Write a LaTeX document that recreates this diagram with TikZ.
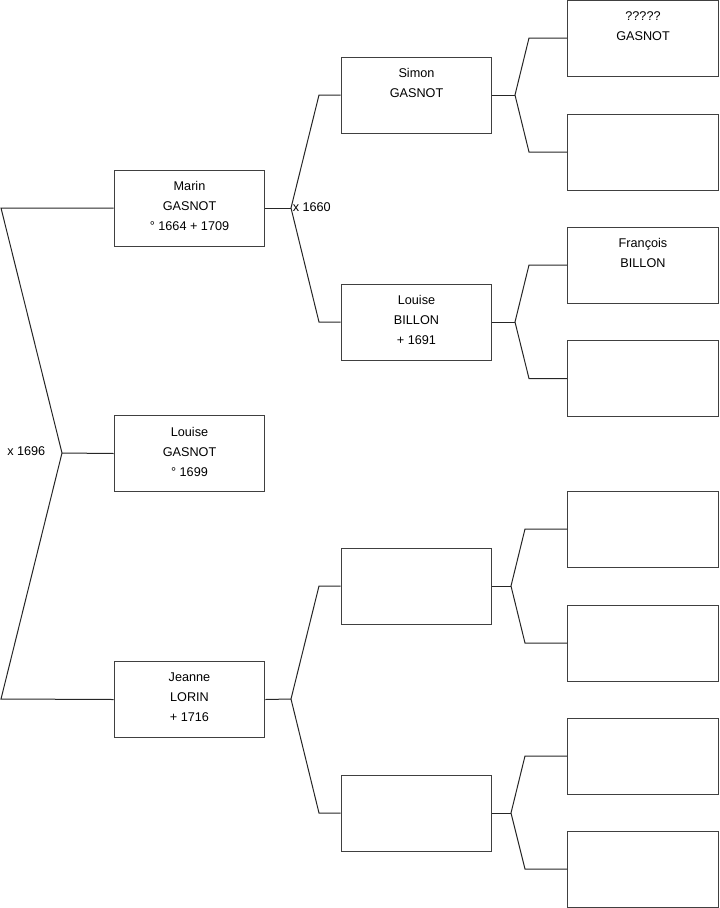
\documentclass[tikz,border=0pt]{standalone}
\usepackage{fontspec}
\setmainfont{Liberation Sans}
\usetikzlibrary{positioning}

\begin{document}
\begin{tikzpicture}[x=0.75pt, y=-0.75pt,
    every node/.style={font=\fontsize{9.5pt}{15pt}\selectfont},
    person/.style={draw=black!75, line width=0.75pt, minimum width=113pt, minimum height=57pt, text depth=3pt, align=center, inner sep=0pt},
    link/.style={draw=black!85, line width=0.75pt}]
    \useasboundingbox (0,0) rectangle (719,908);
    % generation 1
    \node[person] (marin) at (189.5,208) {Marin\\GASNOT\\° 1664 + 1709};
    \node[person] (louise) at (189.5,453.5) {Louise\\GASNOT\\° 1699};
    \node[person] (jeanne) at (189.5,699.5) {Jeanne\\LORIN\\+ 1716};
    % generation 2
    \node[person] (simon) at (416.5,95) {Simon\\GASNOT\\~};
    \node[person] (billon) at (416.5,322) {Louise\\BILLON\\+ 1691};
    \node[person] (p3) at (416.5,586) {};
    \node[person] (p4) at (416.5,813) {};
    % generation 3
    \node[person] (g1) at (643,38) {?????\\GASNOT\\~};
    \node[person] (g2) at (643,152) {};
    \node[person] (g3) at (643,265) {François\\BILLON\\~};
    \node[person] (g4) at (643,378.5) {};
    \node[person] (g5) at (643,529) {};
    \node[person] (g6) at (643,643) {};
    \node[person] (g7) at (643,756) {};
    \node[person] (g8) at (643,869) {};
    % joints
    \coordinate (j0) at (62,453);
    \coordinate (m0) at (1,208);
    \coordinate (n0) at (1,699);
    \coordinate (j1) at (291,208);
    \coordinate (a1) at (319,95);
    \coordinate (b1) at (319,322);
    \coordinate (j2) at (291,699);
    \coordinate (a2) at (319,586);
    \coordinate (b2) at (319,813);
    \coordinate (j3) at (515,95);
    \coordinate (a3) at (529,38);
    \coordinate (b3) at (529,152);
    \coordinate (j4) at (515,322);
    \coordinate (a4) at (529,265);
    \coordinate (b4) at (529,378.5);
    \coordinate (j5) at (511,586);
    \coordinate (a5) at (525,529);
    \coordinate (b5) at (525,643);
    \coordinate (j6) at (511,813);
    \coordinate (a6) at (525,756);
    \coordinate (b6) at (525,869);
    % connectors
    \draw[link] (marin.west) -- (m0) -- (j0) -- (n0) -- (jeanne.west);
    \draw[link] (j0) -- (louise.west);
    \draw[link] (simon.west) -- (a1) -- (j1) -- (b1) -- (billon.west);
    \draw[link] (marin.east) -- (j1);
    \draw[link] (p3.west) -- (a2) -- (j2) -- (b2) -- (p4.west);
    \draw[link] (jeanne.east) -- (j2);
    \draw[link] (g1.west) -- (a3) -- (j3) -- (b3) -- (g2.west);
    \draw[link] (simon.east) -- (j3);
    \draw[link] (g3.west) -- (a4) -- (j4) -- (b4) -- (g4.west);
    \draw[link] (billon.east) -- (j4);
    \draw[link] (g5.west) -- (a5) -- (j5) -- (b5) -- (g6.west);
    \draw[link] (p3.east) -- (j5);
    \draw[link] (g7.west) -- (a6) -- (j6) -- (b6) -- (g8.west);
    \draw[link] (p4.east) -- (j6);
    % marriages
    \node[anchor=west, inner sep=0pt] (x1660) at (292.5,207) {x 1660};
    \node[anchor=west, inner sep=0pt] (x1696) at (7,451) {x 1696};
\end{tikzpicture}
\end{document}
